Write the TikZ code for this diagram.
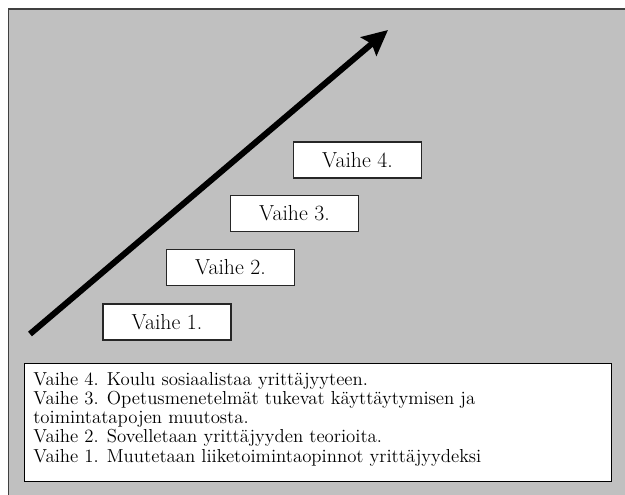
\documentclass[tikz,border=0pt]{standalone}
\usepackage{fontspec}
\usetikzlibrary{arrows.meta}
\tikzstyle{phaseBox}=[draw=black!85,fill=white,line width=1pt,minimum width=96pt,minimum height=27pt,inner sep=0pt,font=\fontsize{16.3}{18}\selectfont]
\tikzstyle{growthArrow}=[-{Stealth[length=19pt,width=18pt,inset=3pt]}, line width=4.5pt]
\definecolor{panelGray}{RGB}{192,192,192}

\begin{document}
\begin{tikzpicture}[x=0.75pt,y=-0.75pt]
	\useasboundingbox (0,0) rectangle (625,495);
	\clip (0,0) rectangle (625,495);
	\fill[white] (0,0) rectangle (625,495);
	\draw[fill=panelGray, draw=black!75, line width=1pt] (8.5,9) rectangle (640,510);

	\coordinate (start) at (30,334);
	\coordinate (end) at (388,30);
	\draw[growthArrow] (start) -- (end);

	\node[phaseBox] (p1) at (167,322) {Vaihe 1.};
	\node[phaseBox] (p2) at (230.5,267.5) {Vaihe 2.};
	\node[phaseBox] (p3) at (294.5,213.5) {Vaihe 3.};
	\node[phaseBox] (p4) at (357.5,160) {Vaihe 4.};

	\node[draw=black, fill=white, line width=1pt, anchor=north west, minimum width=440pt, minimum height=88.5pt, inner sep=0pt] (legend) at (24,363) {};
	\node[anchor=north west, align=left, inner sep=0pt, font=\fontsize{14.1}{14.4}\selectfont] (legendText) at (33,372) {Vaihe 4. Koulu sosiaalistaa yrittäjyyteen.\\
Vaihe 3. Opetusmenetelmät tukevat käyttäytymisen ja\\
toimintatapojen muutosta.\\
Vaihe 2. Sovelletaan yrittäjyyden teorioita.\\
Vaihe 1. Muutetaan liiketoimintaopinnot yrittäjyydeksi};
\end{tikzpicture}
\end{document}
